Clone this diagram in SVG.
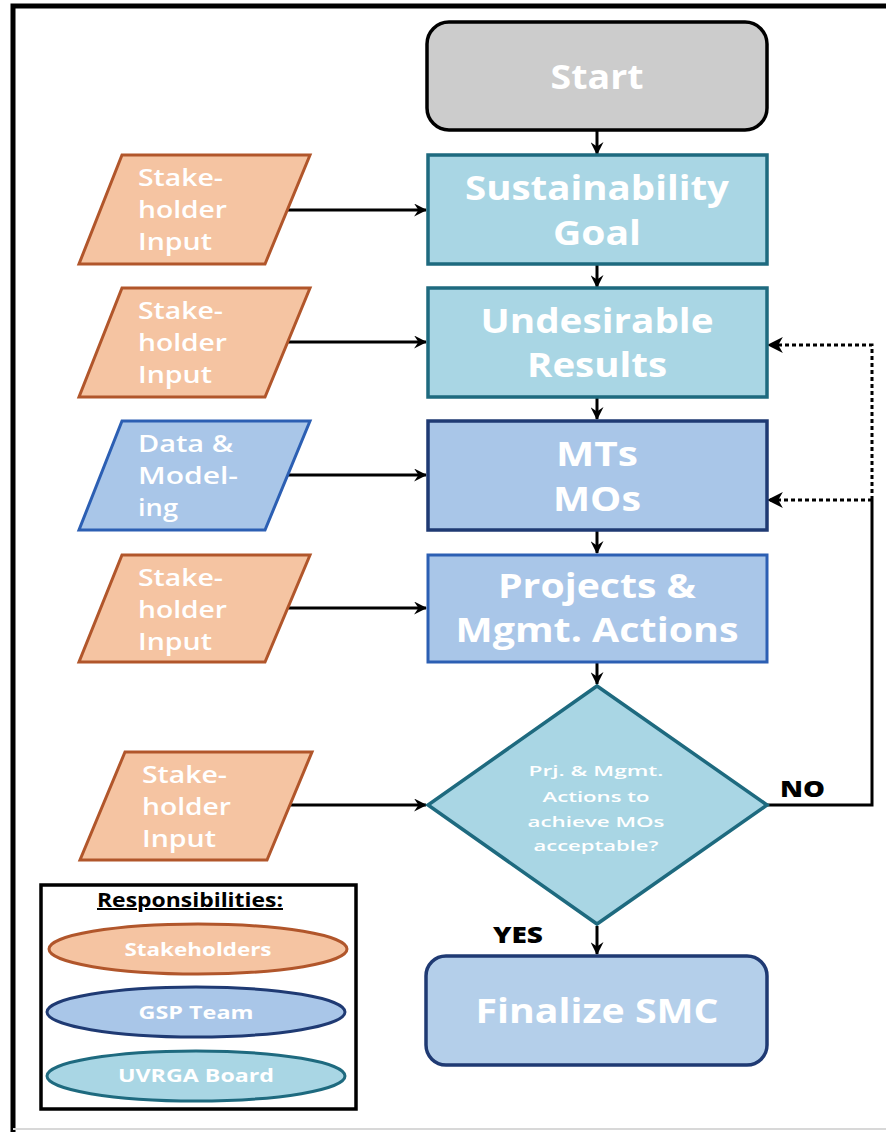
<svg xmlns="http://www.w3.org/2000/svg" width="886" height="1132" viewBox="0 0 886 1132">
  <defs>
    <marker id="arrow" viewBox="0 0 12 12" refX="11" refY="6" markerWidth="13" markerHeight="13" markerUnits="userSpaceOnUse" orient="auto">
      <path d="M0,0 L12,6 L0,12 L4,6 z" fill="#000"/>
    </marker>
    <marker id="arrowBig" viewBox="0 0 14 14" refX="13" refY="7" markerWidth="16" markerHeight="16" markerUnits="userSpaceOnUse" orient="auto">
      <path d="M0,0 L14,7 L0,14 L4,7 z" fill="#000"/>
    </marker>
  </defs>
  <style>
    text { font-family: "Open Sans", "Liberation Sans", sans-serif; }
    .title { font-weight: 700; fill: #ffffff; text-anchor: middle; font-size: 34px; }
    .side { font-weight: 600; fill: #ffffff; font-size: 24px; }
    .small { font-weight: 600; fill: #ffffff; text-anchor: middle; font-size: 15px; }
    .legend { font-weight: 700; fill: #ffffff; text-anchor: middle; font-size: 18px; }
    .label { font-weight: 800; fill: #000000; font-size: 22px; }
    .orange { fill: #f5c4a2; stroke: #b1562b; stroke-width: 3; }
    .teal { fill: #a9d6e4; stroke: #1e6a7f; stroke-width: 3.5; }
    .blue { fill: #a9c6e8; stroke: #2c5fb3; stroke-width: 3; }
    .navy { fill: #a9c6e8; stroke: #1f3a73; stroke-width: 3.5; }
    .flow { stroke: #000; stroke-width: 3; fill: none; }
    .dotted { stroke: #000; stroke-width: 3; fill: none; stroke-dasharray: 4 3; }
  </style>

  <!-- page frame -->
  <rect width="886" height="1132" fill="#ffffff"/>
  <path d="M13,1132 L13,6 L886,6" fill="none" stroke="#000" stroke-width="5"/>
  <line x1="13" y1="1129" x2="886" y2="1129" stroke="#d8d8d8" stroke-width="2"/>

  <!-- connectors -->
  <g id="connectors">
    <line class="flow" x1="597" y1="131" x2="597" y2="154" marker-end="url(#arrow)"/>
    <line class="flow" x1="597" y1="265" x2="597" y2="287" marker-end="url(#arrow)"/>
    <line class="flow" x1="597" y1="398" x2="597" y2="419" marker-end="url(#arrow)"/>
    <line class="flow" x1="597" y1="531" x2="597" y2="553" marker-end="url(#arrow)"/>
    <line class="flow" x1="597" y1="663" x2="597" y2="684" marker-end="url(#arrow)"/>
    <line class="flow" x1="597" y1="926" x2="597" y2="954" marker-end="url(#arrow)"/>

    <line class="flow" x1="287" y1="210" x2="426" y2="210" marker-end="url(#arrow)"/>
    <line class="flow" x1="287" y1="342" x2="426" y2="342" marker-end="url(#arrow)"/>
    <line class="flow" x1="287" y1="475" x2="426" y2="475" marker-end="url(#arrow)"/>
    <line class="flow" x1="287" y1="608" x2="426" y2="608" marker-end="url(#arrow)"/>
    <line class="flow" x1="290" y1="805" x2="426" y2="805" marker-end="url(#arrow)"/>

    <!-- NO loop back -->
    <path class="flow" d="M767,805 L872,805 L872,500"/>
    <path class="dotted" d="M872,500 L872,345 L768,345" marker-end="url(#arrowBig)"/>
    <path class="dotted" d="M872,500 L768,500" marker-end="url(#arrowBig)"/>
  </g>

  <!-- main flow -->
  <g id="start">
    <rect x="427" y="22" width="340" height="108" rx="22" fill="#cccccc" stroke="#000" stroke-width="3.5"/>
    <text class="title" x="597" y="89" textLength="93" lengthAdjust="spacingAndGlyphs">Start</text>
  </g>
  <g id="sustainability-goal">
    <rect class="teal" x="428" y="155" width="339" height="109"/>
    <text class="title" x="597" y="200" textLength="264" lengthAdjust="spacingAndGlyphs">Sustainability</text>
    <text class="title" x="597" y="245" textLength="88" lengthAdjust="spacingAndGlyphs">Goal</text>
  </g>
  <g id="undesirable-results">
    <rect class="teal" x="428" y="288" width="339" height="109"/>
    <text class="title" x="597" y="333" textLength="233" lengthAdjust="spacingAndGlyphs">Undesirable</text>
    <text class="title" x="597" y="377" textLength="140" lengthAdjust="spacingAndGlyphs">Results</text>
  </g>
  <g id="mts-mos">
    <rect class="navy" x="428" y="421" width="339" height="109"/>
    <text class="title" x="597" y="466" textLength="82" lengthAdjust="spacingAndGlyphs">MTs</text>
    <text class="title" x="597" y="511" textLength="88" lengthAdjust="spacingAndGlyphs">MOs</text>
  </g>
  <g id="projects-actions">
    <rect class="blue" x="428" y="555" width="339" height="107"/>
    <text class="title" x="597" y="598" textLength="198" lengthAdjust="spacingAndGlyphs">Projects &amp;</text>
    <text class="title" x="597" y="642" textLength="283" lengthAdjust="spacingAndGlyphs">Mgmt. Actions</text>
  </g>
  <g id="decision">
    <polygon class="teal" points="597,686 767,805 597,924 428,805"/>
    <text class="small" x="596" y="776" textLength="135" lengthAdjust="spacingAndGlyphs">Prj. &amp; Mgmt.</text>
    <text class="small" x="596" y="802" textLength="107" lengthAdjust="spacingAndGlyphs">Actions to</text>
    <text class="small" x="596" y="827" textLength="137" lengthAdjust="spacingAndGlyphs">achieve MOs</text>
    <text class="small" x="596" y="851" textLength="125" lengthAdjust="spacingAndGlyphs">acceptable?</text>
  </g>
  <g id="finalize-smc">
    <rect x="426" y="956" width="341" height="109" rx="20" fill="#b4cfea" stroke="#1f3a73" stroke-width="3.5"/>
    <text class="title" x="597" y="1023" textLength="243" lengthAdjust="spacingAndGlyphs">Finalize SMC</text>
  </g>

  <!-- branch labels -->
  <text class="label" x="493" y="943" textLength="50" lengthAdjust="spacingAndGlyphs">YES</text>
  <text class="label" x="780" y="797" textLength="45" lengthAdjust="spacingAndGlyphs">NO</text>

  <!-- inputs -->
  <g id="input-goal">
    <polygon class="orange" points="122,155 310,155 265,264 79,264"/>
    <text class="side" x="138" y="186" textLength="85" lengthAdjust="spacingAndGlyphs">Stake-</text>
    <text class="side" x="138" y="218" textLength="89" lengthAdjust="spacingAndGlyphs">holder</text>
    <text class="side" x="138" y="250" textLength="74" lengthAdjust="spacingAndGlyphs">Input</text>
  </g>
  <g id="input-results">
    <polygon class="orange" points="122,288 310,288 265,397 79,397"/>
    <text class="side" x="138" y="319" textLength="85" lengthAdjust="spacingAndGlyphs">Stake-</text>
    <text class="side" x="138" y="351" textLength="89" lengthAdjust="spacingAndGlyphs">holder</text>
    <text class="side" x="138" y="383" textLength="74" lengthAdjust="spacingAndGlyphs">Input</text>
  </g>
  <g id="input-data">
    <polygon class="blue" points="122,421 310,421 265,530 79,530"/>
    <text class="side" x="138" y="452" textLength="95" lengthAdjust="spacingAndGlyphs">Data &amp;</text>
    <text class="side" x="138" y="484" textLength="100" lengthAdjust="spacingAndGlyphs">Model-</text>
    <text class="side" x="138" y="516" textLength="40" lengthAdjust="spacingAndGlyphs">ing</text>
  </g>
  <g id="input-projects">
    <polygon class="orange" points="122,555 310,555 265,662 79,662"/>
    <text class="side" x="138" y="586" textLength="85" lengthAdjust="spacingAndGlyphs">Stake-</text>
    <text class="side" x="138" y="618" textLength="89" lengthAdjust="spacingAndGlyphs">holder</text>
    <text class="side" x="138" y="650" textLength="74" lengthAdjust="spacingAndGlyphs">Input</text>
  </g>
  <g id="input-decision">
    <polygon class="orange" points="125,752 312,752 267,860 80,860"/>
    <text class="side" x="142" y="783" textLength="85" lengthAdjust="spacingAndGlyphs">Stake-</text>
    <text class="side" x="142" y="815" textLength="89" lengthAdjust="spacingAndGlyphs">holder</text>
    <text class="side" x="142" y="847" textLength="74" lengthAdjust="spacingAndGlyphs">Input</text>
  </g>

  <!-- legend -->
  <g id="legend">
    <rect x="41" y="885" width="315" height="224" fill="#ffffff" stroke="#000" stroke-width="3.5"/>
    <text x="97" y="907" font-weight="700" font-size="20" fill="#000" text-decoration="underline" textLength="186" lengthAdjust="spacingAndGlyphs">Responsibilities:</text>
    <ellipse class="orange" cx="198" cy="949" rx="149" ry="25"/>
    <text class="legend" x="198" y="956" textLength="147" lengthAdjust="spacingAndGlyphs">Stakeholders</text>
    <ellipse cx="196" cy="1012" rx="149" ry="25" fill="#a9c6e8" stroke="#1f3a73" stroke-width="3"/>
    <text class="legend" x="196" y="1019" textLength="115" lengthAdjust="spacingAndGlyphs">GSP Team</text>
    <ellipse cx="196" cy="1076" rx="149" ry="25" fill="#a9d6e4" stroke="#1e6a7f" stroke-width="3"/>
    <text class="legend" x="196" y="1082" textLength="156" lengthAdjust="spacingAndGlyphs">UVRGA Board</text>
  </g>
</svg>
